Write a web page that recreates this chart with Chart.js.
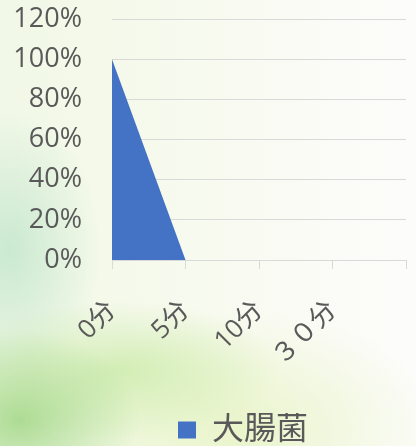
<!DOCTYPE html>
<html>
<head>
<meta charset="utf-8">
<script src="https://cdn.jsdelivr.net/npm/chart.js@4"></script>
<style>
  html, body { margin: 0; padding: 0; }
  body {
    width: 416px; height: 446px; overflow: hidden;
    background:
      radial-gradient(ellipse 120px 90px at 20px 420px, rgba(150,210,120,0.75), rgba(150,210,120,0) 100%),
      radial-gradient(ellipse 160px 70px at 120px 370px, rgba(190,230,150,0.6), rgba(190,230,150,0) 100%),
      radial-gradient(ellipse 90px 140px at 10px 250px, rgba(170,220,190,0.55), rgba(170,220,190,0) 100%),
      radial-gradient(ellipse 200px 120px at 240px 430px, rgba(220,240,170,0.55), rgba(220,240,170,0) 100%),
      linear-gradient(90deg, #f1f8e6 0%, #f7faee 45%, #fbfbf6 75%, #fcfcfa 100%);
  }
  #wrap { position: absolute; left: 0; top: 0; width: 416px; height: 446px; }
</style>
</head>
<body>
<div id="wrap"><canvas id="myChart1"></canvas></div>
<script>
const categories = ['0分', '5分', '10分', '３０分', ''];
const colonyRate = [1, 0, 0, 0, null];
const yTicks = [0, 0.2, 0.4, 0.6, 0.8, 1.0, 1.2];
const seriesName = '大腸菌';

const ctx = document.getElementById('myChart1');

// the legend in the original sits a bit right of centre and low
const legendShift = {
  id: 'legendShift',
  afterLayout(chart) {
    chart.legend.left += 40;
    chart.legend.right += 40;
    chart.legend.top += 10;
    chart.legend.bottom += 10;
  }
};

new Chart(ctx, {
  type: 'line',
  data: {
    labels: categories,
    datasets: [{
      label: seriesName,
      data: colonyRate,
      backgroundColor: '#4472C4',
      borderColor: '#4472C4',
      borderWidth: 0,
      pointRadius: 0,
      fill: 'origin',
      tension: 0
    }]
  },
  options: {
    responsive: true,
    maintainAspectRatio: false,
    animation: false,
    layout: { padding: { top: 19, right: 10, left: 0, bottom: 0 } },
    plugins: {
      tooltip: { enabled: false },
      legend: {
        position: 'bottom',
        labels: {
          boxWidth: 18,
          boxHeight: 17,
          padding: 1,
          color: '#595959',
          font: { family: '"Open Sans", "Noto Sans CJK JP"', size: 32 }
        }
      }
    },
    scales: {
      x: {
        offset: false,
        grid: {
          drawOnChartArea: false,
          drawTicks: true,
          tickLength: 9,
          color: '#d9d9d9'
        },
        border: { color: '#d9d9d9' },
        ticks: {
          autoSkip: false,
          minRotation: 45,
          maxRotation: 45,
          padding: 26,
          color: '#595959',
          font: { family: '"Open Sans", "Noto Sans CJK JP"', size: 26 }
        },
        afterFit: (scale) => {
          scale.height = 143;
          scale.paddingLeft = 0;
          scale.paddingRight = 0;
        }
      },
      y: {
        min: 0,
        max: 1.2,
        afterBuildTicks: (scale) => { scale.ticks = yTicks.map(v => ({ value: v })); },
        grid: { color: '#d9d9d9', drawTicks: false },
        border: { display: false },
        ticks: {
          autoSkip: false,
          padding: 30,
          color: '#595959',
          font: { family: '"Open Sans", "Noto Sans CJK JP"', size: 27 },
          callback: (v) => Math.round(v * 100) + '%'
        },
        afterFit: (scale) => {
          scale.width = 112;
          scale.paddingTop = 0;
          scale.paddingBottom = 0;
        }
      }
    }
  },
  plugins: [legendShift]
});
</script>
</body>
</html>
